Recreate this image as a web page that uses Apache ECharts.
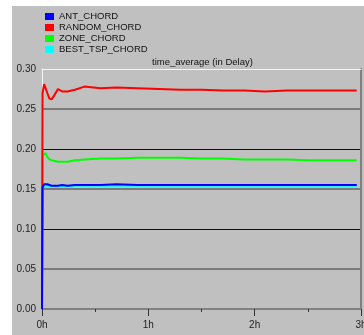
<!DOCTYPE html>
<html>
<head>
<meta charset="utf-8">
<script src="https://cdn.jsdelivr.net/npm/echarts@6/dist/echarts.min.js"></script>
<style>
  html, body { margin: 0; padding: 0; background: #fff; }
  #chart { position: absolute; left: 12px; top: 6px; width: 352px; height: 329px; }
</style>
</head>
<body>
<div id="chart"></div>
<script>
// time in hours
const hours = [0, 0.005, 0.02, 0.035, 0.05, 0.07, 0.09, 0.12, 0.15, 0.19, 0.24, 0.31, 0.4, 0.55, 0.7, 0.9, 1.1, 1.3, 1.5, 1.7, 1.9, 2.1, 2.3, 2.5, 2.7, 2.96]

const antChord = [0, 0.152, 0.156, 0.158, 0.156, 0.155, 0.154, 0.154, 0.154, 0.155, 0.154, 0.155, 0.155, 0.155, 0.156, 0.155, 0.155, 0.155, 0.155, 0.155, 0.155, 0.155, 0.155, 0.155, 0.155, 0.155]
const randomChord = [0, 0.270, 0.281, 0.279, 0.270, 0.263, 0.262, 0.268, 0.275, 0.272, 0.272, 0.274, 0.278, 0.276, 0.277, 0.276, 0.275, 0.274, 0.274, 0.273, 0.273, 0.272, 0.273, 0.273, 0.273, 0.273]
const zoneChord = [0, 0.192, 0.193, 0.195, 0.190, 0.187, 0.186, 0.185, 0.184, 0.184, 0.184, 0.186, 0.187, 0.188, 0.188, 0.189, 0.189, 0.189, 0.188, 0.188, 0.187, 0.187, 0.187, 0.186, 0.186, 0.186]
const bestTspChord = [0, 0.151, 0.153, 0.155, 0.154, 0.153, 0.153, 0.153, 0.153, 0.153, 0.153, 0.154, 0.154, 0.154, 0.154, 0.154, 0.154, 0.154, 0.154, 0.154, 0.154, 0.154, 0.154, 0.154, 0.154, 0.154]

const seriesNames = ['ANT_CHORD', 'RANDOM_CHORD', 'ZONE_CHORD', 'BEST_TSP_CHORD']
const seriesColors = ['#0000ff', '#ff0000', '#00ff00', '#00ffff']
const seriesValues = [antChord, randomChord, zoneChord, bestTspChord]
const drawOrder = [4, 3, 2, 1]

const chart = echarts.init(document.getElementById('chart'))

const font = 'Liberation Sans, Arial, sans-serif'

const option = {
  backgroundColor: '#c0c0c0',
  animation: false,
  title: {
    text: 'time_average (in Delay)',
    left: 140,
    top: 51,
    padding: 0,
    textStyle: { fontSize: 9.5, fontWeight: 'normal', color: '#111', fontFamily: font }
  },
  legend: {
    orient: 'vertical',
    left: 33,
    top: 5,
    padding: 0,
    itemWidth: 9,
    itemHeight: 7,
    itemGap: 0,
    icon: 'rect',
    data: seriesNames,
    textStyle: { fontSize: 9.5, color: '#111', fontFamily: font, lineHeight: 11 }
  },
  grid: { left: 30, right: 3, top: 63, bottom: 26, containLabel: false, outerBoundsMode: 'none' },
  xAxis: [
    {
      type: 'value',
      min: 0,
      max: 3,
      interval: 1,
      axisLine: { onZero: false, lineStyle: { color: '#808080', width: 2 } },
      axisTick: { length: 7, lineStyle: { color: '#333' } },
      minorTick: { show: true, splitNumber: 2, length: 3, lineStyle: { color: '#333' } },
      axisLabel: { margin: 11, fontSize: 10, color: '#222', fontFamily: font, formatter: v => v + 'h' },
      splitLine: { show: false }
    },
    {
      type: 'value',
      position: 'top',
      min: 0,
      max: 3,
      axisLine: { onZero: false, lineStyle: { color: '#f4f4f4', width: 1 } },
      axisTick: { show: false },
      axisLabel: { show: false },
      splitLine: { show: false }
    }
  ],
  yAxis: [
    {
      type: 'value',
      min: 0,
      max: 0.3,
      interval: 0.05,
      axisLine: { show: true, onZero: false, lineStyle: { color: '#f4f4f4', width: 1 } },
      axisTick: { show: false },
      axisLabel: { margin: 6, fontSize: 10, color: '#222', fontFamily: font, formatter: v => v.toFixed(2) },
      splitLine: {
        lineStyle: {
          width: 1,
          color: ['transparent', 'transparent', '#111', 'transparent', '#111', 'transparent', 'transparent']
        }
      }
    },
    {
      type: 'value',
      position: 'right',
      min: 0,
      max: 0.3,
      interval: 0.05,
      axisLine: { show: true, onZero: false, lineStyle: { color: '#808080', width: 2 } },
      axisTick: { show: false },
      axisLabel: { show: false },
      splitLine: {
        lineStyle: {
          width: 2,
          color: ['transparent', '#7a7a7a', 'transparent', '#7a7a7a', 'transparent', '#7a7a7a', 'transparent']
        }
      }
    }
  ],
  series: seriesNames.map((name, i) => ({
    name: name,
    type: 'line',
    z: drawOrder[i],
    showSymbol: false,
    symbol: 'none',
    color: seriesColors[i],
    lineStyle: { width: 2, color: seriesColors[i] },
    data: hours.map((t, k) => [t, seriesValues[i][k]])
  }))
}

chart.setOption(option)
</script>
</body>
</html>
